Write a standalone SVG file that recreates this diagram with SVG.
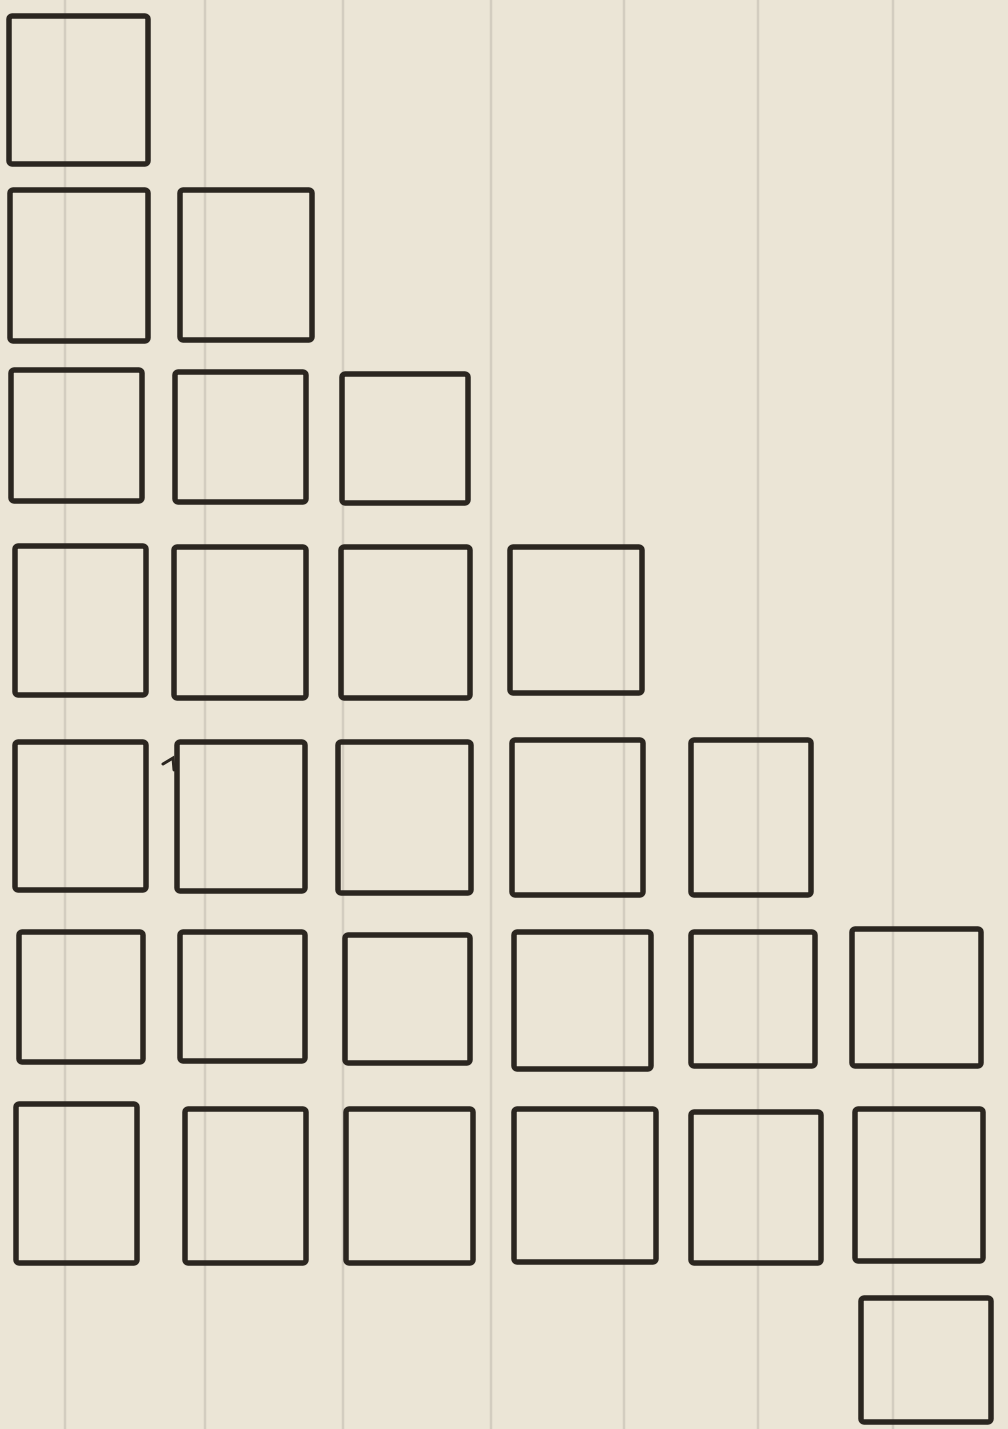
<svg xmlns="http://www.w3.org/2000/svg" width="1008" height="1429" viewBox="0 0 1008 1429">
<style>
.bg{fill:#ebe5d6}
.rule{stroke:#d3cdc0;stroke-width:2.5;fill:none}
.box{fill:none;stroke:#2b2620;stroke-width:5.5;stroke-linejoin:round}
.mark{fill:none;stroke:#2b2620;stroke-width:3;stroke-linecap:round}
</style>
<rect class="bg" x="0" y="0" width="1008" height="1429"/>
<g id="rules">
<line class="rule" x1="65" y1="0" x2="65" y2="1429"/>
<line class="rule" x1="205" y1="0" x2="205" y2="1429"/>
<line class="rule" x1="343" y1="0" x2="343" y2="1429"/>
<line class="rule" x1="491" y1="0" x2="491" y2="1429"/>
<line class="rule" x1="624" y1="0" x2="624" y2="1429"/>
<line class="rule" x1="758" y1="0" x2="758" y2="1429"/>
<line class="rule" x1="893" y1="0" x2="893" y2="1429"/>
</g>
<g id="row1">
<rect id="b1-1" class="box" x="9" y="16" width="139" height="148" rx="3"/>
</g>
<g id="row2">
<rect id="b2-1" class="box" x="10" y="190" width="138" height="151" rx="3"/>
<rect id="b2-2" class="box" x="180" y="190" width="132" height="150" rx="3"/>
</g>
<g id="row3">
<rect id="b3-1" class="box" x="11" y="370" width="131" height="131" rx="3"/>
<rect id="b3-2" class="box" x="175" y="372" width="131" height="130" rx="3"/>
<rect id="b3-3" class="box" x="342" y="374" width="126" height="129" rx="3"/>
</g>
<g id="row4">
<rect id="b4-1" class="box" x="15" y="546" width="131" height="149" rx="3"/>
<rect id="b4-2" class="box" x="174" y="547" width="132" height="151" rx="3"/>
<rect id="b4-3" class="box" x="341" y="547" width="129" height="151" rx="3"/>
<rect id="b4-4" class="box" x="510" y="547" width="132" height="146" rx="3"/>
</g>
<g id="row5">
<rect id="b5-1" class="box" x="15" y="742" width="131" height="148" rx="3"/>
<rect id="b5-2" class="box" x="177" y="742" width="128" height="149" rx="3"/>
<rect id="b5-3" class="box" x="338" y="742" width="133" height="151" rx="3"/>
<rect id="b5-4" class="box" x="512" y="740" width="131" height="155" rx="3"/>
<rect id="b5-5" class="box" x="691" y="740" width="120" height="155" rx="3"/>
<path class="mark" d="M163 764 L173 758 L174 770"/>
</g>
<g id="row6">
<rect id="b6-1" class="box" x="19" y="932" width="124" height="130" rx="3"/>
<rect id="b6-2" class="box" x="180" y="932" width="125" height="129" rx="3"/>
<rect id="b6-3" class="box" x="345" y="935" width="125" height="128" rx="3"/>
<rect id="b6-4" class="box" x="514" y="932" width="137" height="137" rx="3"/>
<rect id="b6-5" class="box" x="691" y="932" width="124" height="134" rx="3"/>
<rect id="b6-6" class="box" x="852" y="929" width="129" height="137" rx="3"/>
</g>
<g id="row7">
<rect id="b7-1" class="box" x="16" y="1104" width="121" height="159" rx="3"/>
<rect id="b7-2" class="box" x="185" y="1109" width="121" height="154" rx="3"/>
<rect id="b7-3" class="box" x="346" y="1109" width="127" height="154" rx="3"/>
<rect id="b7-4" class="box" x="514" y="1109" width="142" height="153" rx="3"/>
<rect id="b7-5" class="box" x="691" y="1112" width="130" height="151" rx="3"/>
<rect id="b7-6" class="box" x="855" y="1109" width="128" height="152" rx="3"/>
</g>
<g id="row8">
<rect id="b8-6" class="box" x="861" y="1298" width="130" height="124" rx="3"/>
</g>
<g id="connectors"></g>
</svg>
